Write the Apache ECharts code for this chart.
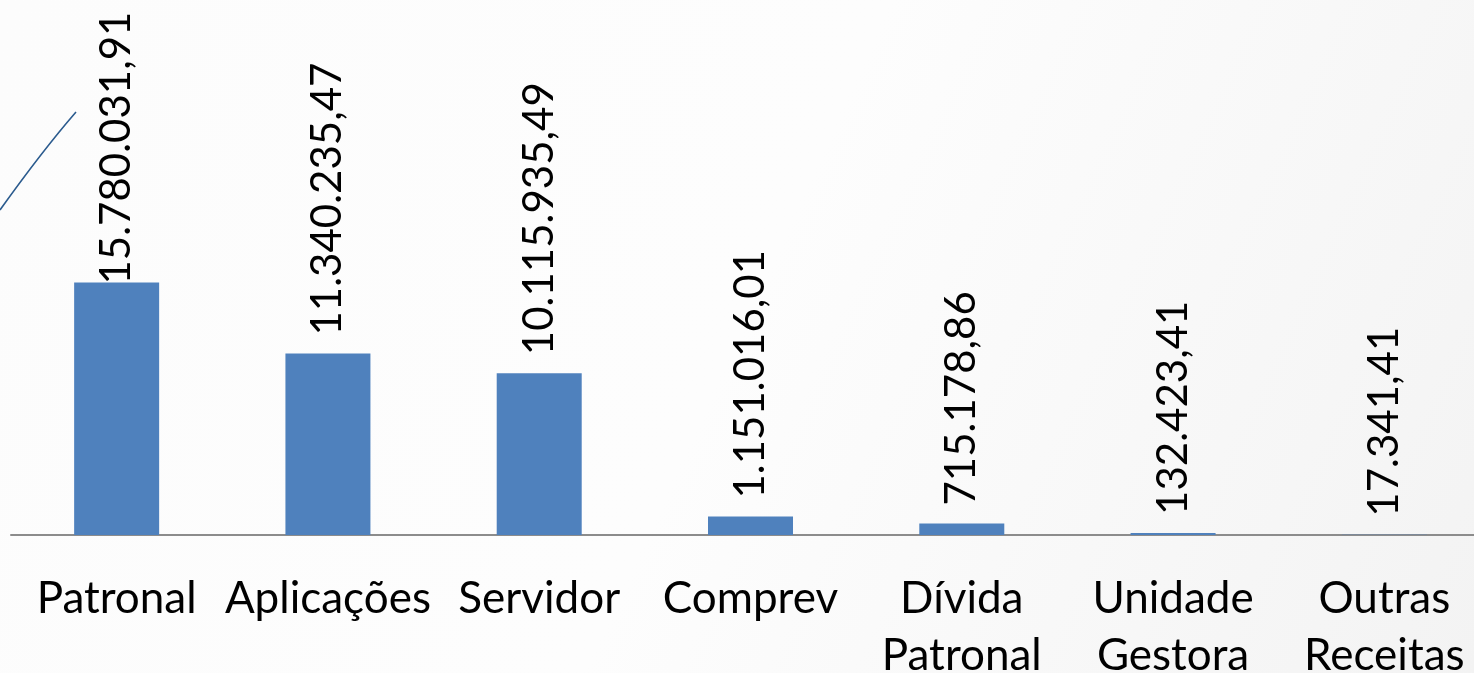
<!DOCTYPE html>
<html>
<head>
<meta charset="utf-8">
<script src="https://cdn.jsdelivr.net/npm/echarts@6/dist/echarts.min.js"></script>
<style>
  html, body { margin: 0; padding: 0; }
  #chart { width: 1474px; height: 673px; }
</style>
</head>
<body>
<div id="chart"></div>
<script>
var categories = ['Patronal', 'Aplicações', 'Servidor', 'Comprev', 'Dívida\nPatronal', 'Unidade\nGestora', 'Outras\nReceitas'];
var values = [15780031.91, 11340235.47, 10115935.49, 1151016.01, 715178.86, 132423.41, 17341.41];

function brl(v) {
  var parts = v.toFixed(2).split('.');
  var intPart = parts[0].replace(/\B(?=(\d{3})+(?!\d))/g, '.');
  return intPart + ',' + parts[1];
}

var chart = echarts.init(document.getElementById('chart'));
var font = 'Lato, "Open Sans", sans-serif';

var option = {
  backgroundColor: {
    type: 'linear', x: 0, y: 0, x2: 1, y2: 1,
    colorStops: [
      { offset: 0, color: '#fcfcfc' },
      { offset: 0.5, color: '#fdfdfd' },
      { offset: 1, color: '#f3f3f3' }
    ]
  },
  animation: false,
  grid: {
    left: 11,
    top: 35,
    width: 1479,
    height: 500,
    containLabel: false,
    outerBoundsMode: 'none'
  },
  graphic: [{
    type: 'bezierCurve',
    shape: { x1: 0, y1: 210, x2: 76, y2: 112, cpx1: 25, cpy1: 175, cpx2: 50, cpy2: 142 },
    style: { stroke: '#2b5b8e', lineWidth: 1.6, fill: null },
    silent: true
  }],
  xAxis: {
    type: 'category',
    data: categories,
    axisLine: { lineStyle: { color: '#8c8c8c', width: 2 } },
    axisTick: { show: false },
    axisLabel: {
      interval: 0,
      color: '#000',
      fontFamily: font,
      fontSize: 44,
      lineHeight: 57,
      margin: 35,
      verticalAlign: 'top'
    }
  },
  yAxis: {
    type: 'value',
    min: 0,
    max: 31250000,
    show: false,
    splitLine: { show: false }
  },
  series: [{
    type: 'bar',
    barWidth: 85,
    itemStyle: { color: '#4f81bd' },
    data: values.map(function (v, i) {
      var item = { value: v };
      if (i === 0) item.label = { distance: -2 };
      return item;
    }),
    label: {
      show: true,
      position: 'top',
      rotate: 90,
      align: 'left',
      verticalAlign: 'middle',
      distance: 18,
      color: '#000',
      fontFamily: font,
      fontSize: 42,
      formatter: function (p) { return brl(p.value); }
    }
  }]
};

chart.setOption(option);
window.onresize = function () { chart.resize(); };
</script>
</body>
</html>
